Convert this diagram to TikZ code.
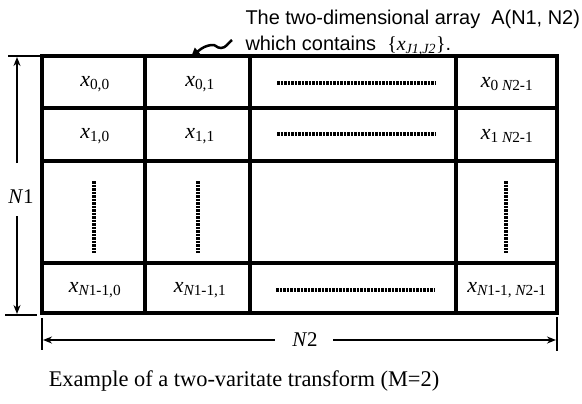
\documentclass[tikz,border=0pt]{standalone}
\usepackage{fontspec}
\setmainfont{Liberation Serif}
\setsansfont{Liberation Sans}
\usepackage{amsmath}
\usetikzlibrary{positioning,arrows.meta}

\begin{document}
\begin{tikzpicture}[
    x=1bp, y=-1bp,
    >={Stealth[length=9bp,width=7bp]},
    font=\fontsize{21}{25}\selectfont,
    gridline/.style={line width=3.8bp},
    dimline/.style={line width=2bp},
    tickline/.style={line width=1.5bp},
    dotline/.style={line width=4.5bp, dash pattern=on 2.5bp off 1bp},
    cell/.style={inner sep=0pt, font=\fontsize{22}{26}\selectfont},
  ]
  \useasboundingbox (0,0) rectangle (582,403);

  % ============================================================
  % the array A(N1, N2)
  % ============================================================
  \coordinate (tl) at (42,56);
  \coordinate (br) at (557,313);
  \draw[gridline] (tl) rectangle (br);
  \foreach \xc in {145,250,456} {
    \draw[gridline] (\xc,56) -- (\xc,313);
  }
  \foreach \yc in {108,161,263} {
    \draw[gridline] (42,\yc) -- (557,\yc);
  }

  % cell entries
  \node[cell] (c00) at (95,84)    {$\textit{x}_{\text{0,0}}$};
  \node[cell] (c01) at (200,84)   {$\textit{x}_{\text{0,1}}$};
  \node[cell] (c02) at (356,83)   {};
  \node[cell] (c03) at (507,84)   {$\textit{x}_{\text{0 }\textit{N}\text{2-1}}$};
  \node[cell] (c10) at (95,136)   {$\textit{x}_{\text{1,0}}$};
  \node[cell] (c11) at (200,136)  {$\textit{x}_{\text{1,1}}$};
  \node[cell] (c12) at (356,134)  {};
  \node[cell] (c13) at (507,136)  {$\textit{x}_{\text{1 }\textit{N}\text{2-1}}$};
  \node[cell] (c20) at (94,217)   {};
  \node[cell] (c21) at (198,217)  {};
  \node[cell] (c23) at (506,217)  {};
  \node[cell] (c30) at (95,290)   {$\textit{x}_{\textit{N}\text{1-1,0}}$};
  \node[cell] (c31) at (200,290)  {$\textit{x}_{\textit{N}\text{1-1,1}}$};
  \node[cell] (c32) at (355,290)  {};
  \node[cell] (c33) at (507,290)  {$\textit{x}_{\textit{N}\text{1-1, }\textit{N}\text{2-1}}$};

  % dotted fillers
  \foreach \c in {c02,c12,c32} {
    \draw[dotline] ([xshift=-79bp]\c.center) -- ([xshift=79bp]\c.center);
  }
  \foreach \c in {c20,c21,c23} {
    \draw[dotline] ([yshift=36bp]\c.center) -- ([yshift=-36bp]\c.center);
  }

  % ============================================================
  % dimension N1
  % ============================================================
  \node (n1) at (21,197) {\textit{N}1};
  \coordinate (n1top) at (17,57);
  \coordinate (n1bot) at (17,314);
  \coordinate (n1up) at (17,163);
  \coordinate (n1dn) at (17,216);
  \draw[dimline,->] (n1up) -- (n1top);
  \draw[dimline,->] (n1dn) -- (n1bot);
  \draw[tickline] (8,56) -- (tl);
  \draw[tickline] (5,315) -- (37,315);

  % ============================================================
  % dimension N2
  % ============================================================
  \node (n2) at (305,340) {\textit{N}2};
  \coordinate (n2l) at (43,340);
  \coordinate (n2r) at (556,340);
  \draw[dimline,->] ([xshift=-14bp]n2.west) -- (n2l);
  \draw[dimline,->] ([xshift=12bp]n2.east) -- (n2r);
  \draw[tickline] (42,318) -- (42,350);
  \draw[tickline] (557,317) -- (557,351);

  % ============================================================
  % title and pointer
  % ============================================================
  \node[font=\sffamily\fontsize{20}{24}\selectfont, anchor=base west] (title1) at (242,24)
    {The two-dimensional array\ \ A(N1, N2)};
  \node[font=\sffamily\fontsize{20}{24}\selectfont, anchor=base west] (title2) at (242,50)
    {which contains\ \ {\rmfamily\{\textit{x}$_{\textit{J1,J2}}$\}}.};
  \coordinate (sqstart) at (232,40);
  \coordinate (sqend) at (191,57);
  \draw[line width=2.5bp,-{Triangle[length=9bp,width=9bp]}] (sqstart)
    .. controls (228,43) and (226,48) .. (221,48)
    .. controls (216,48) and (216,44) .. (211,45)
    .. controls (206,46) and (203,47) .. (sqend);

  % caption
  \node[font=\fontsize{22.5}{26}\selectfont] (caption) at (244,381)
    {Example of a two-varitate transform (M=2)};

\end{tikzpicture}
\end{document}
